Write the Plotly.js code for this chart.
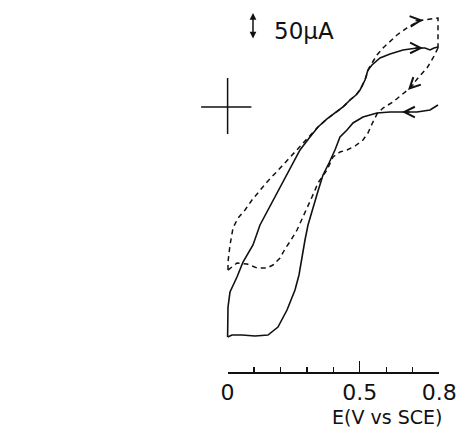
<!DOCTYPE html>
<html>
<head>
<meta charset="utf-8">
<script src="https://cdn.plot.ly/plotly-3.0.1.min.js"></script>
<style>html,body{margin:0;padding:0;background:#fff;}#chart{width:472px;height:430px;}</style>
</head>
<body>
<div id="chart"></div>
<script>
// Potential E (V vs SCE) and current (uA, anodic up)
const solidFwdE = [0, 0, 0.0015, 0.0091, 0.0355, 0.0582, 0.0960, 0.1225, 0.1527, 0.1716, 0.2019, 0.2359, 0.2737, 0.3115, 0.3418, 0.3758, 0.4060, 0.4363, 0.4628, 0.4855, 0.5006, 0.5195, 0.5308, 0.5459, 0.5762, 0.6140, 0.6631, 0.7161, 0.7463, 0.7652, 0.7803, 0.7955];
const solidFwdI = [-425.9, -398.1, -370.4, -342.6, -314.8, -287.0, -255.6, -218.5, -190.7, -172.2, -144.4, -113.0, -79.6, -55.6, -37.0, -22.2, -11.1, 0, 13.0, 22.2, 31.5, 50.0, 68.5, 77.8, 90.7, 98.1, 105.6, 109.3, 109.3, 105.6, 109.3, 111.1];

const solidRevE = [0.7955, 0.7652, 0.7161, 0.6593, 0.6140, 0.5648, 0.5119, 0.4741, 0.4514, 0.4249, 0.4060, 0.3834, 0.3607, 0.3418, 0.3229, 0.3040, 0.2926, 0.2813, 0.2699, 0.2548, 0.2246, 0.1905, 0.1527, 0.1036, 0.0544, 0.0166, 0];
const solidRevI = [3.7, -5.6, -9.3, -9.3, -9.3, -11.1, -18.5, -29.6, -42.6, -55.6, -79.6, -103.7, -125.9, -155.6, -185.2, -218.5, -246.3, -279.6, -311.1, -338.9, -375.9, -407.4, -422.2, -424.1, -422.2, -422.2, -425.9];

const dashFwdE = [0.0015, 0.0015, 0.0091, 0.0204, 0.0393, 0.0658, 0.0922, 0.1187, 0.1490, 0.2094, 0.2737, 0.3380, 0.3758, 0.4060, 0.4363, 0.4628, 0.4855, 0.5006, 0.5195, 0.5346, 0.5648, 0.5875, 0.6404, 0.6782, 0.7161, 0.7387, 0.7652, 0.7955, 0.7955];
const dashFwdI = [-301.9, -287.0, -255.6, -224.1, -205.6, -190.7, -172.2, -157.4, -138.9, -107.4, -74.1, -38.9, -22.2, -11.1, 0, 13.0, 22.2, 31.5, 50.0, 72.2, 96.3, 109.3, 133.3, 146.3, 157.4, 161.1, 163.0, 164.8, 109.3];

const dashRevE = [0.7955, 0.7766, 0.7539, 0.7198, 0.6896, 0.6593, 0.6253, 0.5875, 0.5648, 0.5459, 0.5308, 0.5119, 0.4817, 0.4514, 0.4249, 0.3985, 0.3871, 0.3758, 0.3569, 0.3418, 0.3191, 0.2926, 0.2624, 0.2397, 0.2170, 0.1981, 0.1716, 0.1490, 0.1111, 0.0733, 0.0355, 0.0015];
const dashRevI = [109.3, 90.7, 72.2, 53.7, 35.2, 22.2, 9.3, -1.9, -13.0, -31.5, -48.1, -61.1, -72.2, -79.6, -83.3, -92.6, -103.7, -116.7, -129.6, -140.7, -166.7, -194.4, -227.8, -246.3, -263.0, -279.6, -292.6, -298.1, -298.1, -290.7, -288.9, -301.9];

// origin cross (0 V, 0 uA)
const crossE = [-0.10, 0.09, null, 0, 0];
const crossI = [0, 0, null, 53.7, -50.0];

// axis ticks and labels
const tickVals = [0, 0.5, 0.8];
const tickText = ['0', '0.5', '0.8'];
const minorTickVals = [0.1, 0.2, 0.3, 0.4, 0.6, 0.7];
const scaleBarUA = 50;
const scaleBarLabel = '50μA';
const xLabel = 'E(V vs SCE)';

const ink = '#111';
const solidLine = {color: ink, width: 1.6};
const dashLine = {color: ink, width: 1.5, dash: '5px,4px'};

const traces = [
  {x: [], y: [], xaxis: 'x', yaxis: 'y', type: 'scatter', mode: 'lines', hoverinfo: 'skip'},
  {x: solidFwdE, y: solidFwdI, xaxis: 'x2', yaxis: 'y', type: 'scatter', mode: 'lines', line: solidLine, hoverinfo: 'skip'},
  {x: solidRevE, y: solidRevI, xaxis: 'x2', yaxis: 'y', type: 'scatter', mode: 'lines', line: solidLine, hoverinfo: 'skip'},
  {x: dashFwdE, y: dashFwdI, xaxis: 'x2', yaxis: 'y', type: 'scatter', mode: 'lines', line: dashLine, hoverinfo: 'skip'},
  {x: dashRevE, y: dashRevI, xaxis: 'x2', yaxis: 'y', type: 'scatter', mode: 'lines', line: dashLine, hoverinfo: 'skip'},
  {x: crossE, y: crossI, xaxis: 'x2', yaxis: 'y', type: 'scatter', mode: 'lines', line: {color: ink, width: 1.5}, hoverinfo: 'skip'}
];

function curveArrow(x, y, ax, ay) {
  return {xref: 'x2', yref: 'y', x: x, y: y, ax: ax, ay: ay, text: '', showarrow: true,
          arrowhead: 5, arrowsize: 1.6, arrowwidth: 1.3, arrowcolor: ink, standoff: 0};
}

const scaleTop = 174.1;
const layout = {
  width: 472, height: 430,
  margin: {l: 0, r: 0, t: 2, b: 58},
  paper_bgcolor: '#fff', plot_bgcolor: 'rgba(0,0,0,0)',
  showlegend: false,
  font: {family: 'DejaVu Sans', color: ink},
  xaxis: {
    domain: [0.48220, 0.93051], range: [0, 0.8], anchor: 'y',
    showline: true, linecolor: ink, linewidth: 1.5,
    showgrid: false, zeroline: false,
    ticks: 'inside', tickmode: 'array', tickvals: tickVals, ticktext: tickText,
    ticklen: 11, tickwidth: 1.3, tickcolor: ink,
    tickfont: {family: 'DejaVu Sans', size: 22, color: ink},
    minor: {tickmode: 'array', tickvals: minorTickVals, ticks: 'inside', ticklen: 5, tickwidth: 1.3, tickcolor: ink, showgrid: false},
    layer: 'above traces',
    fixedrange: true
  },
  xaxis2: {
    domain: [0.40254, 0.93051], range: [-0.14216, 0.8], anchor: 'y',
    visible: false, showgrid: false, zeroline: false, fixedrange: true
  },
  yaxis: {
    domain: [0, 1], range: [-490.7, 194.4], anchor: 'x',
    visible: false, showgrid: false, zeroline: false, fixedrange: true
  },
  annotations: [
    {xref: 'x2', yref: 'y', x: 0.096, y: scaleTop, axref: 'x2', ayref: 'y', ax: 0.096, ay: scaleTop - scaleBarUA,
     text: '', showarrow: true, arrowside: 'end+start', arrowhead: 2, arrowsize: 0.9, arrowwidth: 1.5, arrowcolor: ink, standoff: 0, startstandoff: 0},
    {xref: 'x2', yref: 'y', x: 0.2907, y: 140.7, text: scaleBarLabel, showarrow: false,
     xanchor: 'center', yanchor: 'middle', font: {family: 'DejaVu Sans', size: 23, color: ink}},
    {xref: 'x2', yref: 'paper', x: 0.6027, y: -0.1565, text: xLabel, showarrow: false,
     xanchor: 'center', yanchor: 'bottom', font: {family: 'DejaVu Sans', size: 19, color: ink}},
    curveArrow(0.7387, 109.3, -9, 0),
    curveArrow(0.6593, -9.3, 9, 0),
    curveArrow(0.7387, 161.1, -9, 1),
    curveArrow(0.6820, 31.5, 7, -7)
  ]
};

Plotly.newPlot('chart', traces, layout, {staticPlot: true, displayModeBar: false});
</script>
</body>
</html>
